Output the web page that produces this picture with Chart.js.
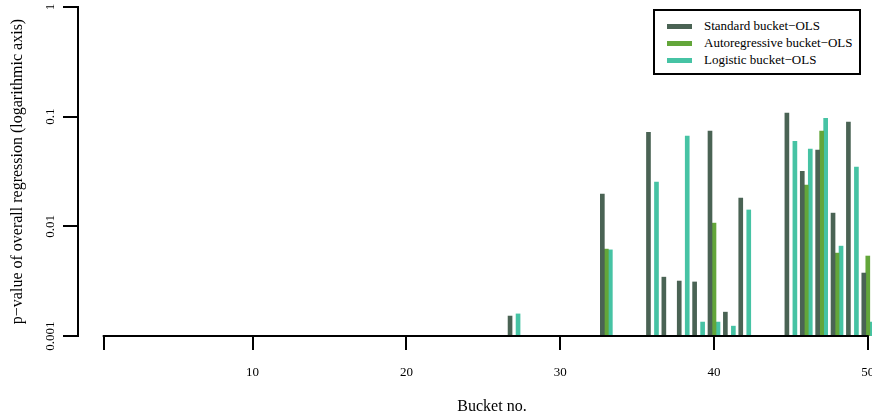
<!DOCTYPE html>
<html>
<head>
<meta charset="utf-8">
<script src="https://cdn.jsdelivr.net/npm/chart.js@4.4.1/dist/chart.umd.min.js"></script>
<style>
  html, body { margin: 0; padding: 0; background: #fff; overflow: hidden; }
  #wrap { position: relative; width: 906px; height: 419px; }
  #legenda {
    position: absolute; left: 653px; top: 9px; width: 204px; height: 62px;
    border: 2px solid #000; background: #fff;
    font-family: "Liberation Serif", "DejaVu Serif", serif; font-size: 13px; color: #000;
  }
  .item { position: absolute; left: 12px; height: 17px; line-height: 17px; white-space: nowrap; }
  .item i { display: inline-block; width: 25px; height: 5px; vertical-align: middle; margin-right: 12px; position: relative; top: -1px; }
</style>
</head>
<body>
<div id="wrap">
  <canvas id="grafico" width="906" height="419"></canvas>
  <div id="legenda"></div>
</div>
<script>
// --- DADOS ---
const buckets = [1, 2, 3, 4, 5, 6, 7, 8, 9, 10, 11, 12, 13, 14, 15, 16, 17, 18, 19, 20,
  21, 22, 23, 24, 25, 26, 27, 28, 29, 30, 31, 32, 33, 34, 35, 36, 37, 38, 39, 40,
  41, 42, 43, 44, 45, 46, 47, 48, 49, 50];

// p-values per bucket (null = no bar above 0.001)
const standardOLS = [null, null, null, null, null, null, null, null, null, null,
  null, null, null, null, null, null, null, null, null, null,
  null, null, null, null, null, null, 0.00152, null, null, null,
  null, null, 0.0197, null, null, 0.0721, 0.00344, 0.00317, 0.00311, 0.0738,
  0.00165, 0.0181, null, null, 0.1076, 0.0318, 0.0495, 0.0132, 0.0891, 0.00375];

const autoregressiveOLS = [null, null, null, null, null, null, null, null, null, null,
  null, null, null, null, null, null, null, null, null, null,
  null, null, null, null, null, null, null, null, null, null,
  null, null, 0.0062, null, null, null, null, null, null, 0.0107,
  null, null, null, null, null, 0.0238, 0.0738, 0.0057, null, 0.00536];

const logisticOLS = [null, null, null, null, null, null, null, null, null, null,
  null, null, null, null, null, null, null, null, null, null,
  null, null, null, null, null, null, 0.00159, null, null, null,
  null, null, 0.0061, null, null, 0.0253, null, 0.0664, 0.00134, 0.00134,
  0.00123, 0.0141, null, null, 0.0597, 0.0506, 0.0968, 0.0066, 0.0347, 0.00134];

const seriesNames = ['Standard bucket\u2212OLS', 'Autoregressive bucket\u2212OLS', 'Logistic bucket\u2212OLS'];
const yTicks = [0.001, 0.01, 0.1, 1];
const yTickLabels = ['0.001', '0.01', '0.1', '1'];
const xTicks = [0.32, 10, 20, 30, 40, 50];
const xTickLabels = ['', '10', '20', '30', '40', '50'];

const cores = ['#4a6354', '#63a63a', '#46c3a4'];
const fonte = '"Liberation Serif", "DejaVu Serif", serif';

// --- LINHA DO EIXO X (estilo R, só entre os ticks) ---
const linhaEixoX = {
    id: 'linhaEixoX',
    afterDraw(chart) {
        const { ctx, chartArea } = chart;
        const x = chart.scales.x;
        const y = Math.round(chartArea.bottom);
        ctx.save();
        ctx.strokeStyle = '#000';
        ctx.lineWidth = 2;
        ctx.beginPath();
        ctx.moveTo(x.getPixelForValue(xTicks[0]) - 1, y);
        ctx.lineTo(x.getPixelForValue(xTicks[xTicks.length - 1]) + 1, y);
        ctx.stroke();
        ctx.restore();
    }
};

const ctx = document.getElementById('grafico').getContext('2d');

const meuGrafico = new Chart(ctx, {
    type: 'bar',
    data: {
        labels: buckets,
        datasets: [
            { label: seriesNames[0], data: standardOLS, backgroundColor: cores[0] },
            { label: seriesNames[1], data: autoregressiveOLS, backgroundColor: cores[1] },
            { label: seriesNames[2], data: logisticOLS, backgroundColor: cores[2] }
        ]
    },
    options: {
        responsive: false,
        animation: false,
        barThickness: 4,
        layout: { padding: { top: 7, right: 0, bottom: 0, left: 0 } },
        plugins: {
            legend: { display: false },
            tooltip: { enabled: false }
        },
        scales: {
            x: {
                type: 'linear',
                min: -1.352,
                max: 52.484,
                offset: false,
                border: { display: false },
                grid: { offset: false, drawOnChartArea: false, drawTicks: true, tickLength: 14, color: '#000', lineWidth: 2 },
                ticks: {
                    font: { family: fonte, size: 13 },
                    color: '#000',
                    padding: 15,
                    maxRotation: 0,
                    autoSkip: false,
                    callback: (v, i) => xTickLabels[i]
                },
                title: {
                    display: true,
                    text: 'Bucket no.',
                    font: { family: fonte, size: 16 },
                    color: '#000',
                    padding: { top: 0, bottom: 2.5 }
                },
                afterBuildTicks: (scale) => { scale.ticks = xTicks.map(v => ({ value: v })); },
                afterFit: (scale) => {
                    scale.height = 83;
                    scale.paddingLeft = 0;
                    scale.paddingRight = 0;
                }
            },
            y: {
                type: 'logarithmic',
                min: 0.001,
                max: 1,
                border: { display: true, color: '#000', width: 2 },
                grid: { drawOnChartArea: false, drawTicks: true, tickLength: 15, color: '#000', lineWidth: 2 },
                ticks: {
                    font: { family: fonte, size: 13 },
                    color: '#000',
                    minRotation: 90,
                    maxRotation: 90,
                    crossAlign: 'center',
                    padding: -2,
                    autoSkip: false,
                    callback: (v, i) => yTickLabels[i]
                },
                title: {
                    display: true,
                    text: 'p\u2212value of overall regression (logarithmic axis)',
                    font: { family: fonte, size: 16 },
                    color: '#000',
                    padding: { top: 8.4, bottom: 0 }
                },
                afterBuildTicks: (scale) => { scale.ticks = yTicks.map(v => ({ value: v })); },
                afterFit: (scale) => {
                    scale.width = 78;
                    scale.paddingTop = 0;
                    scale.paddingBottom = 0;
                }
            }
        }
    },
    plugins: [linhaEixoX]
});

// --- LEGENDA ---
const legenda = document.getElementById('legenda');
meuGrafico.data.datasets.forEach((ds, i) => {
    const item = document.createElement('div');
    item.className = 'item';
    item.style.top = (6 + i * 17) + 'px';
    item.innerHTML = `<i style="background:${ds.backgroundColor}"></i>${ds.label}`;
    legenda.appendChild(item);
});
</script>
</body>
</html>
